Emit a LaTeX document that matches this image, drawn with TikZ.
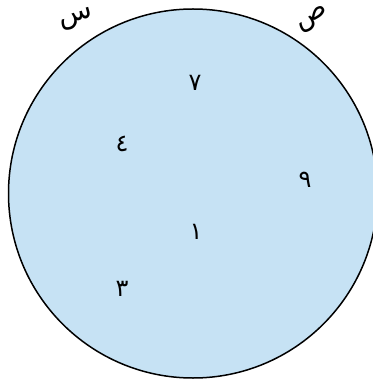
\documentclass[tikz,border=0pt]{standalone}
\usepackage{fontspec}
\newfontfamily\arabicfont[Script=Arabic]{DejaVu Sans}
\TeXXeTstate=1
\definecolor{setblue}{RGB}{198,226,244}
\tikzset{
  numlabel/.style={font=\arabicfont\fontsize{24}{28}\selectfont},
  setlabel/.style={font=\arabicfont\fontsize{28}{32}\selectfont,inner sep=0pt}
}
\begin{document}
\begin{tikzpicture}[x=1pt,y=-1pt]
      \useasboundingbox (0,0) rectangle (372,387);
      \begin{scope}
        \draw[draw=black,fill=setblue,line width=1.5pt] (193,193.5) circle (184.5);
        \node[setlabel,rotate=15] (s) at (77,19) {\beginR س\endR};
        \node[setlabel,rotate=30] (sad) at (313,20) {\beginR ص\endR};
        \node[numlabel] (n7) at (195,83) {\beginR ٧\endR};
        \node[numlabel] (n4) at (122,144) {\beginR ٤\endR};
        \node[numlabel] (n9) at (305,180) {\beginR ٩\endR};
        \node[numlabel] (n1) at (196,232) {\beginR ١\endR};
        \node[numlabel] (n3) at (122,289) {\beginR ٣\endR};
      \end{scope}
  \end{tikzpicture}
\end{document}
